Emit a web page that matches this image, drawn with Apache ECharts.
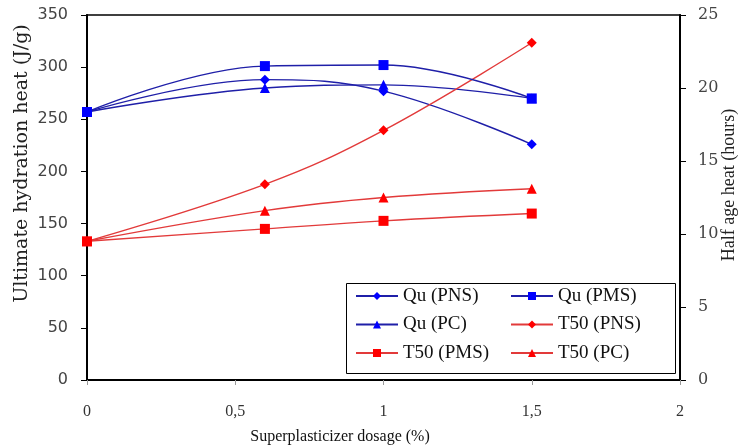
<!DOCTYPE html>
<html>
<head>
<meta charset="utf-8">
<script src="https://cdn.jsdelivr.net/npm/echarts@6/dist/echarts.min.js"></script>
<style>
  html, body { margin: 0; padding: 0; background: #fff; }
  #chart { width: 742px; height: 448px; }
</style>
</head>
<body>
<div id="chart"></div>
<script>
// Superplasticizer dosage (%)
var dosage = [0, 0.6, 1, 1.5];

// Ultimate hydration heat (J/g), left axis
var quPNS = [257, 288, 277, 226];
var quPMS = [257, 301, 302, 270];
var quPC  = [257, 280, 283, 270];

// Half age heat (hours), right axis
var t50PNS = [9.5, 13.4, 17.1, 23.1];
var t50PMS = [9.5, 10.35, 10.9, 11.4];
var t50PC  = [9.5, 11.6, 12.5, 13.1];

var seriesNames = ['Qu (PNS)', 'Qu (PMS)', 'Qu (PC)', 'T50 (PNS)', 'T50 (PMS)', 'T50 (PC)'];

function pairs(ys) {
  return dosage.map(function (x, i) { return [x, ys[i]]; });
}

var BLUE_LINE = '#1f1fa8', BLUE_MARK = '#0000ff';
var RED_LINE = '#e23a3a', RED_MARK = '#ff0000';

function makeSeries(name, ys, axisIndex, symbol, size, lineColor, markColor, z) {
  return {
    name: name,
    type: 'line',
    yAxisIndex: axisIndex,
    data: pairs(ys),
    smooth: 0.4,
    symbol: symbol,
    symbolSize: size,
    showAllSymbol: true,
    z: z,
    lineStyle: { color: lineColor, width: 1.4 },
    itemStyle: { color: markColor, borderWidth: 0 },
    emphasis: { disabled: true }
  };
}

var serif = 'Liberation Serif, Times New Roman, serif';

var chart = echarts.init(document.getElementById('chart'), null, { renderer: 'canvas' });
chart.setOption({
  animation: false,
  backgroundColor: '#fff',
  grid: {
    left: 87, right: 62, top: 15, bottom: 68,
    outerBoundsMode: 'none',
    containLabel: false,
    show: true, borderColor: '#000', borderWidth: 1.5, backgroundColor: 'transparent'
  },
  graphic: [{
    type: 'rect',
    left: 346, top: 283, z: 10,
    shape: { width: 329, height: 90 },
    style: { fill: '#fff', stroke: '#000', lineWidth: 1 }
  }],
  legend: [{
    data: [seriesNames[0], seriesNames[2], seriesNames[4]],
    orient: 'vertical',
    left: 355, top: 286, z: 20,
    padding: 0,
    itemWidth: 42, itemHeight: 10, itemGap: 8.5,
    textStyle: { fontFamily: serif, fontSize: 19, color: '#111', lineHeight: 20 },
    selectedMode: false
  }, {
    data: [seriesNames[1], seriesNames[3], seriesNames[5]],
    orient: 'vertical',
    left: 510, top: 286, z: 20,
    padding: 0,
    itemWidth: 42, itemHeight: 10, itemGap: 8.5,
    textStyle: { fontFamily: serif, fontSize: 19, color: '#111', lineHeight: 20 },
    selectedMode: false
  }],
  xAxis: {
    type: 'value',
    min: 0, max: 2, interval: 0.5,
    name: 'Superplasticizer dosage (%)',
    nameLocation: 'middle',
    nameGap: 49,
    nameMoveOverlap: false,
    nameTextStyle: { fontFamily: serif, fontSize: 16, color: '#111', padding: [0, 87, 0, 0] },
    axisLine: { show: true, lineStyle: { color: '#000', width: 2 } },
    axisTick: { show: true, length: 5, lineStyle: { color: '#999' } },
    axisLabel: {
      margin: 24, fontFamily: serif, fontSize: 16, color: '#333',
      formatter: function (v) { return String(v).replace('.', ','); }
    },
    splitLine: { show: false }
  },
  yAxis: [{
    type: 'value',
    min: 0, max: 350, interval: 50,
    name: 'Ultimate hydration heat (J/g)',
    nameLocation: 'middle',
    nameRotate: 90,
    nameGap: 55,
    nameMoveOverlap: false,
    nameTextStyle: { fontFamily: 'DejaVu Serif, serif', fontSize: 19, color: '#222', padding: [0, 0, 0, 68] },
    axisLine: { show: true, lineStyle: { color: '#000', width: 2 } },
    axisTick: { show: true, length: 6, lineStyle: { color: '#000' } },
    axisLabel: { margin: 19, fontFamily: 'DejaVu Sans, sans-serif', fontSize: 16, color: '#444' },
    splitLine: { show: false }
  }, {
    type: 'value',
    min: 0, max: 25, interval: 5,
    position: 'right',
    name: 'Half age heat (hours)',
    nameLocation: 'middle',
    nameRotate: 90,
    nameGap: 40,
    nameMoveOverlap: false,
    nameTextStyle: { fontFamily: serif, fontSize: 18, color: '#222', padding: [0, 0, 0, 25] },
    axisLine: { show: true, lineStyle: { color: '#000', width: 2 } },
    axisTick: { show: true, length: 6, lineStyle: { color: '#000' } },
    axisLabel: { margin: 18, fontFamily: 'DejaVu Serif, serif', fontSize: 16, color: '#444' },
    splitLine: { show: false }
  }],
  series: [
    makeSeries(seriesNames[0], quPNS, 0, 'diamond', 10, BLUE_LINE, BLUE_MARK, 2),
    makeSeries(seriesNames[2], quPC, 0, 'triangle', 10, BLUE_LINE, BLUE_MARK, 2),
    makeSeries(seriesNames[1], quPMS, 0, 'rect', 10, BLUE_LINE, BLUE_MARK, 3),
    makeSeries(seriesNames[3], t50PNS, 1, 'diamond', 10, RED_LINE, RED_MARK, 2),
    makeSeries(seriesNames[5], t50PC, 1, 'triangle', 10, RED_LINE, RED_MARK, 2),
    makeSeries(seriesNames[4], t50PMS, 1, 'rect', 10, RED_LINE, RED_MARK, 3)
  ]
});
</script>
</body>
</html>
